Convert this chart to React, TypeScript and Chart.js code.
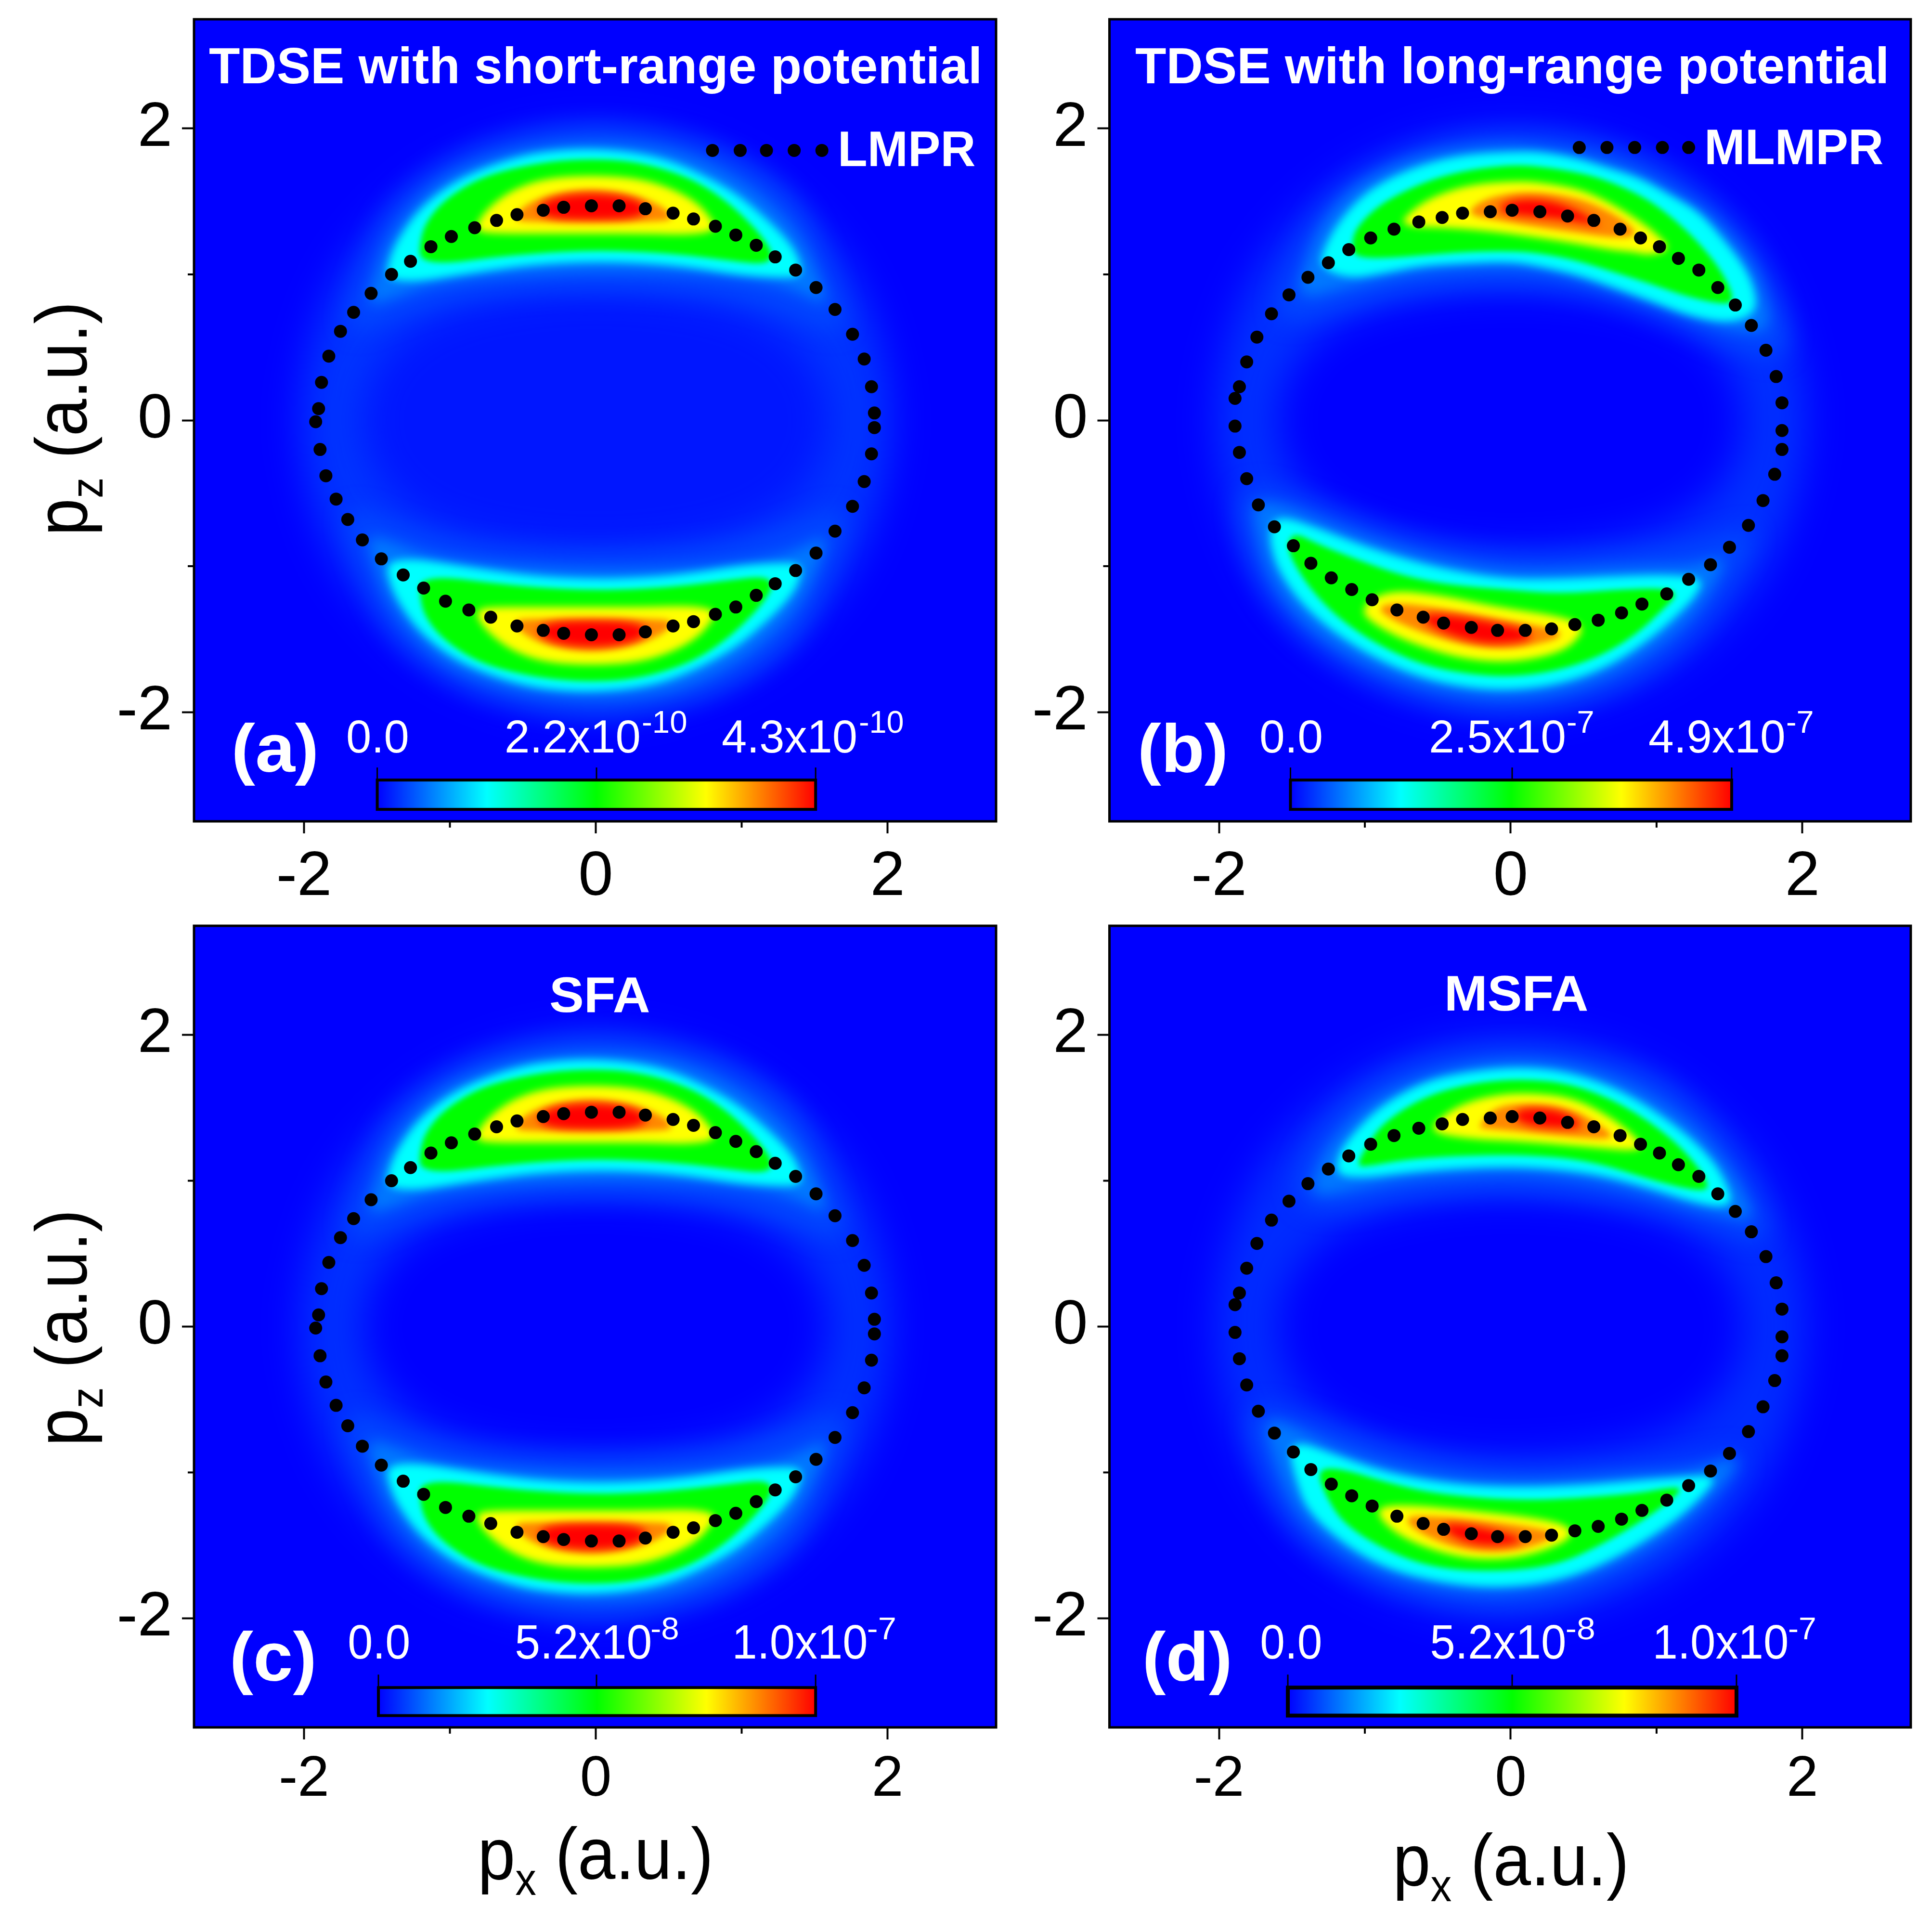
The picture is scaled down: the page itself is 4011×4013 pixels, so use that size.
import { useEffect, useRef } from "react"
import { Chart, registerables } from "chart.js"

Chart.register(...registerables)

type Pt = [number, number]

// dotted circle (LMPR, also used in panel c)
const lmprDots: Pt[] = [
  [-1.92, -0.01], [-1.9, 0.08], [-1.88, 0.26], [-1.83, 0.44], [-1.75, 0.61], [-1.66, 0.74], [-1.54, 0.87], [-1.4, 1.0],
  [-1.27, 1.09], [-1.13, 1.19], [-0.99, 1.26], [-0.83, 1.32], [-0.68, 1.37], [-0.54, 1.41], [-0.36, 1.44], [-0.22, 1.46],
  [-0.03, 1.47], [0.16, 1.47], [0.34, 1.45], [0.53, 1.42], [0.67, 1.38], [0.82, 1.33], [0.96, 1.27], [1.1, 1.2],
  [1.23, 1.12], [1.37, 1.03], [1.51, 0.91], [1.64, 0.76], [1.76, 0.59], [1.84, 0.42], [1.89, 0.23], [1.91, 0.05],
  [1.91, -0.05], [1.89, -0.23], [1.84, -0.42], [1.76, -0.59], [1.64, -0.76], [1.51, -0.91], [1.37, -1.03], [1.23, -1.12],
  [1.1, -1.2], [0.96, -1.28], [0.82, -1.33], [0.67, -1.38], [0.53, -1.41], [0.34, -1.45], [0.16, -1.47], [-0.03, -1.47],
  [-0.22, -1.46], [-0.36, -1.44], [-0.54, -1.41], [-0.72, -1.35], [-0.87, -1.3], [-1.03, -1.24], [-1.18, -1.15], [-1.32, -1.06],
  [-1.47, -0.95], [-1.6, -0.82], [-1.7, -0.68], [-1.78, -0.54], [-1.85, -0.38], [-1.89, -0.2],
]

// MLMPR, also used in panel d
const mlmprDots: Pt[] = [
  [-1.89, -0.04], [-1.89, 0.15], [-1.86, 0.23], [-1.81, 0.4], [-1.74, 0.57], [-1.64, 0.73], [-1.52, 0.86], [-1.39, 0.98],
  [-1.25, 1.08], [-1.11, 1.17], [-0.96, 1.25], [-0.8, 1.31], [-0.63, 1.36], [-0.47, 1.39], [-0.33, 1.42], [-0.14, 1.43],
  [0.01, 1.44], [0.2, 1.43], [0.39, 1.4], [0.57, 1.37], [0.75, 1.31], [0.89, 1.25], [1.02, 1.19], [1.15, 1.11],
  [1.29, 1.03], [1.42, 0.91], [1.54, 0.79], [1.65, 0.65], [1.75, 0.48], [1.82, 0.3], [1.86, 0.12], [1.86, -0.07],
  [1.86, -0.2], [1.81, -0.37], [1.73, -0.55], [1.63, -0.72], [1.5, -0.87], [1.37, -0.99], [1.22, -1.09], [1.07, -1.19],
  [0.9, -1.26], [0.76, -1.32], [0.6, -1.37], [0.44, -1.4], [0.28, -1.43], [0.1, -1.44], [-0.09, -1.44], [-0.27, -1.42],
  [-0.46, -1.39], [-0.6, -1.35], [-0.78, -1.3], [-0.95, -1.23], [-1.09, -1.16], [-1.23, -1.08], [-1.37, -0.98], [-1.49, -0.86],
  [-1.62, -0.73], [-1.73, -0.58], [-1.81, -0.4], [-1.86, -0.22],
]

const lmprKey: Pt[] = [[0.8, 1.85], [0.99, 1.85], [1.17, 1.85], [1.36, 1.85], [1.55, 1.85]]
const mlmprKey: Pt[] = [[0.47, 1.87], [0.66, 1.87], [0.85, 1.87], [1.04, 1.87], [1.22, 1.87]]

// contour outlines of the momentum maps, lowest level first
const hazeOuter: Pt[] = [
  [-2.05, 0], [-1.95, 0.6], [-1.7, 1.15], [-1.2, 1.65], [-0.6, 1.93], [0, 2.02], [0.6, 1.93], [1.2, 1.65], [1.7, 1.15], [1.95, 0.6],
  [2.05, 0], [1.95, -0.6], [1.7, -1.15], [1.2, -1.65], [0.6, -1.93], [0, -2.02], [-0.6, -1.93], [-1.2, -1.65], [-1.7, -1.15], [-1.95, -0.6],
]
const hazeInner: Pt[] = [
  [-1.62, 0], [-1.5, 0.4], [-1.15, 0.7], [-0.6, 0.85], [0, 0.9], [0.6, 0.85], [1.15, 0.7], [1.5, 0.4],
  [1.62, 0], [1.5, -0.4], [1.15, -0.7], [0.6, -0.85], [0, -0.9], [-0.6, -0.85], [-1.15, -0.7], [-1.5, -0.4],
]

const shortGlow: Pt[] = [
  [-1.75, 0.55], [-1.62, 1.0], [-1.4, 1.5], [-0.95, 1.82], [-0.5, 1.96], [0, 2.02], [0.5, 1.96], [0.95, 1.82],
  [1.4, 1.5], [1.62, 1.0], [1.75, 0.55], [1.3, 0.75], [0.8, 0.88], [0, 0.92], [-0.8, 0.88], [-1.3, 0.75],
]
const shortMid: Pt[] = [
  [-1.58, 0.78], [-1.5, 1.03], [-1.44, 1.2], [-1.3, 1.42], [-1.05, 1.66], [-0.75, 1.79], [-0.45, 1.87], [0, 1.91],
  [0.45, 1.87], [0.75, 1.77], [1.05, 1.6], [1.3, 1.38], [1.44, 1.18], [1.52, 1.0], [1.6, 0.78], [1.4, 0.88],
  [1.2, 0.95], [0.7, 1.01], [0, 1.03], [-0.7, 0.99], [-1.15, 0.93], [-1.38, 0.84],
]
const shortCyan: Pt[] = [
  [-1.44, 0.97], [-1.41, 1.12], [-1.35, 1.25], [-1.21, 1.45], [-0.98, 1.63], [-0.74, 1.74], [-0.48, 1.82], [-0.26, 1.85], [-0.03, 1.86],
  [0.24, 1.84], [0.48, 1.79], [0.72, 1.69], [0.97, 1.55], [1.17, 1.38], [1.31, 1.24], [1.39, 1.12], [1.42, 0.98], [1.2, 0.98], [0.96, 1.0],
  [0.65, 1.05], [0.33, 1.08], [-0.03, 1.09], [-0.41, 1.07], [-0.72, 1.03], [-1.04, 0.98], [-1.25, 0.95],
]
const shortGreen: Pt[] = [
  [-1.2, 1.1], [-1.21, 1.18], [-1.18, 1.33], [-1.07, 1.48], [-0.89, 1.61], [-0.71, 1.69], [-0.46, 1.75], [-0.25, 1.78], [-0.03, 1.79],
  [0.21, 1.78], [0.45, 1.73], [0.69, 1.64], [0.9, 1.5], [1.07, 1.34], [1.17, 1.22], [1.22, 1.12], [1.15, 1.07], [0.96, 1.09],
  [0.65, 1.13], [0.33, 1.155], [-0.03, 1.165], [-0.41, 1.145], [-0.72, 1.115], [-1.04, 1.075],
]
const shortYellow: Pt[] = [
  [-0.82, 1.3], [-0.8, 1.38], [-0.7, 1.49], [-0.55, 1.59], [-0.34, 1.66], [-0.03, 1.68], [0.29, 1.66], [0.52, 1.59],
  [0.7, 1.49], [0.8, 1.37], [0.82, 1.3], [0.65, 1.27], [0.33, 1.28], [-0.03, 1.28], [-0.41, 1.28], [-0.72, 1.28],
]
const shortOrange: Pt[] = [
  [-0.57, 1.37], [-0.5, 1.47], [-0.32, 1.55], [-0.03, 1.59], [0.25, 1.55], [0.44, 1.48], [0.54, 1.39], [0.46, 1.36], [-0.03, 1.36], [-0.41, 1.36],
]
const shortRed: Pt[] = [
  [-0.42, 1.44], [-0.3, 1.53], [-0.03, 1.56], [0.25, 1.53], [0.38, 1.44], [0.25, 1.38], [-0.03, 1.37], [-0.3, 1.38],
]

const longTopGlow: Pt[] = [
  [-1.65, 0.65], [-1.5, 1.1], [-1.3, 1.45], [-1.1, 1.64], [-0.62, 1.88], [0, 1.97], [0.65, 1.9], [1.15, 1.66], [1.55, 1.33],
  [1.82, 0.9], [1.95, 0.4], [1.5, 0.5], [1.2, 0.64], [0.6, 0.88], [0, 0.95], [-0.7, 0.9], [-1.25, 0.74],
]
const longTopMid: Pt[] = [
  [-1.48, 0.82], [-1.4, 1.1], [-1.3, 1.34], [-1.1, 1.58], [-0.85, 1.73], [-0.6, 1.82], [-0.3, 1.87], [0, 1.89], [0.35, 1.85], [0.65, 1.78],
  [0.92, 1.68], [1.12, 1.56], [1.33, 1.44], [1.5, 1.27], [1.64, 1.09], [1.72, 0.93], [1.8, 0.6], [1.5, 0.62], [1.25, 0.7], [1.0, 0.79],
  [0.7, 0.89], [0.3, 1.02], [0, 1.05], [-0.35, 1.04], [-0.7, 1.01], [-1.1, 0.92],
]
const longTopCyan: Pt[] = [
  [-1.31, 1.05], [-1.28, 1.18], [-1.18, 1.36], [-1.01, 1.55], [-0.81, 1.67], [-0.58, 1.76], [-0.32, 1.82], [0.01, 1.84], [0.205, 1.84],
  [0.457, 1.795], [0.647, 1.735], [0.887, 1.66], [1.09, 1.545], [1.29, 1.43], [1.45, 1.25], [1.59, 1.07], [1.66, 0.93], [1.69, 0.78], [1.62, 0.7],
  [1.46, 0.67], [1.215, 0.72], [0.962, 0.82], [0.71, 0.91], [0.457, 1.0], [0.205, 1.055], [0.01, 1.09], [-0.31, 1.08], [-0.62, 1.06],
  [-0.87, 1.01], [-1.11, 0.97],
]
const longTopGreen: Pt[] = [
  [-1.08, 1.12], [-1.09, 1.23], [-1.05, 1.33], [-0.91, 1.47], [-0.73, 1.57], [-0.52, 1.66], [-0.27, 1.72], [0.01, 1.75], [0.205, 1.74],
  [0.457, 1.7], [0.647, 1.65], [0.887, 1.545], [1.06, 1.43], [1.24, 1.27], [1.39, 1.1], [1.48, 0.96], [1.53, 0.83], [1.48, 0.79], [1.215, 0.845],
  [0.962, 0.935], [0.71, 1.015], [0.457, 1.095], [0.205, 1.145], [0.01, 1.16], [-0.31, 1.155], [-0.62, 1.13], [-0.87, 1.11],
]
const longTopYellow: Pt[] = [
  [-0.77, 1.33], [-0.68, 1.44], [-0.52, 1.54], [-0.26, 1.62], [0.05, 1.64], [0.205, 1.63], [0.457, 1.59], [0.647, 1.51], [0.85, 1.39],
  [1.0, 1.28], [1.1, 1.17], [0.95, 1.13], [0.836, 1.155], [0.71, 1.165], [0.457, 1.21], [0.205, 1.25], [-0.09, 1.29], [-0.41, 1.32],
]
const longTopOrange: Pt[] = [
  [-0.31, 1.41], [-0.2, 1.51], [0.0, 1.56], [0.205, 1.565], [0.457, 1.525], [0.647, 1.45], [0.82, 1.34], [0.87, 1.26], [0.71, 1.25],
  [0.457, 1.285], [0.205, 1.32], [-0.09, 1.37],
]
const longTopRed: Pt[] = [
  [-0.1, 1.45], [0.0, 1.51], [0.2, 1.52], [0.4, 1.47], [0.6, 1.36], [0.62, 1.33], [0.4, 1.37], [0.2, 1.39], [0.0, 1.41],
]

const longBottomGlow: Pt[] = [
  [-1.9, -0.4], [-1.82, -0.95], [-1.55, -1.4], [-1.05, -1.75], [-0.45, -1.96], [0.1, -2.0], [0.75, -1.85],
  [1.25, -1.5], [1.55, -1.05], [1.72, -0.7], [1.3, -0.85], [0.7, -0.92], [0, -0.95], [-0.7, -0.82], [-1.3, -0.58],
]
const longBottomMid: Pt[] = [
  [-1.78, -0.55], [-1.72, -0.85], [-1.66, -1.05], [-1.51, -1.29], [-1.28, -1.5], [-0.98, -1.68], [-0.65, -1.81], [-0.31, -1.88], [0, -1.9],
  [0.35, -1.86], [0.68, -1.75], [0.98, -1.57], [1.2, -1.39], [1.35, -1.2], [1.5, -0.92], [1.25, -1.0], [1.05, -1.0], [0.7, -1.01], [0.33, -1.03],
  [-0.03, -1.03], [-0.41, -0.97], [-0.73, -0.89], [-1.04, -0.79], [-1.32, -0.68], [-1.55, -0.58],
]
const longBottomCyan: Pt[] = [
  [-1.65, -0.77], [-1.64, -0.88], [-1.59, -1.03], [-1.45, -1.24], [-1.23, -1.44], [-0.95, -1.62], [-0.63, -1.76], [-0.31, -1.83], [-0.01, -1.85],
  [0.33, -1.81], [0.65, -1.7], [0.93, -1.52], [1.14, -1.34], [1.28, -1.19], [1.32, -1.08], [1.06, -1.06], [0.75, -1.07], [0.33, -1.09],
  [-0.03, -1.09], [-0.41, -1.03], [-0.73, -0.95], [-1.04, -0.85], [-1.32, -0.74], [-1.53, -0.67], [-1.62, -0.68],
]
const longBottomGreen: Pt[] = [
  [-1.53, -0.84], [-1.51, -0.94], [-1.38, -1.15], [-1.18, -1.36], [-0.91, -1.54], [-0.6, -1.68], [-0.29, -1.74], [-0.01, -1.76], [0.31, -1.72],
  [0.61, -1.62], [0.86, -1.47], [1.05, -1.29], [1.15, -1.19], [1.05, -1.15], [0.75, -1.16], [0.33, -1.19], [-0.03, -1.16], [-0.41, -1.13],
  [-0.73, -1.07], [-1.04, -0.96], [-1.32, -0.85], [-1.48, -0.77],
]
const longBottomYellow: Pt[] = [
  [-0.85, -1.16], [-0.47, -1.2], [-0.09, -1.28], [0.33, -1.34], [0.49, -1.4], [0.48, -1.48], [0.35, -1.59], [0.03, -1.66],
  [-0.32, -1.64], [-0.65, -1.54], [-0.89, -1.43], [-1.05, -1.3],
]
const longBottomOrange: Pt[] = [
  [-0.77, -1.25], [-0.47, -1.29], [-0.09, -1.36], [0.31, -1.43], [0.35, -1.47], [0.29, -1.51], [0.01, -1.57], [-0.29, -1.55],
  [-0.6, -1.46], [-0.83, -1.36], [-0.92, -1.28],
]
const longBottomRed: Pt[] = [
  [-0.62, -1.33], [-0.43, -1.33], [-0.14, -1.38], [0.14, -1.44], [0.14, -1.51], [-0.14, -1.54], [-0.37, -1.49], [-0.56, -1.41],
]

const msfaTopGlow: Pt[] = [
  [-1.5, 0.85], [-1.42, 1.2], [-1.1, 1.58], [-0.65, 1.83], [0.08, 1.93], [0.9, 1.78], [1.35, 1.42], [1.68, 0.95], [1.8, 0.55],
  [1.4, 0.68], [0.9, 0.84], [0.08, 0.95], [-0.7, 0.9], [-1.2, 0.78],
]
const msfaTopMid: Pt[] = [
  [-1.38, 0.88], [-1.33, 1.08], [-1.23, 1.27], [-0.97, 1.54], [-0.62, 1.71], [-0.28, 1.8], [0.08, 1.83], [0.45, 1.79], [0.84, 1.65], [1.22, 1.4],
  [1.45, 1.15], [1.58, 0.95], [1.68, 0.72], [1.45, 0.77], [1.25, 0.81], [0.91, 0.92], [0.55, 1.01], [0.08, 1.06], [-0.39, 1.04], [-0.73, 1.01], [-1.0, 0.96],
]
const msfaTopCyan: Pt[] = [
  [-1.2, 1.04], [-1.18, 1.18], [-1.1, 1.3], [-0.91, 1.5], [-0.6, 1.68], [-0.28, 1.75], [0.08, 1.78], [0.43, 1.74], [0.8, 1.6], [1.16, 1.36],
  [1.38, 1.15], [1.48, 0.98], [1.52, 0.85], [1.44, 0.82], [1.25, 0.855], [0.91, 0.965], [0.55, 1.055], [0.08, 1.1], [-0.39, 1.085], [-0.73, 1.055], [-1.02, 1.02],
]
const msfaTopGreen: Pt[] = [
  [-1.06, 1.1], [-0.98, 1.25], [-0.87, 1.4], [-0.6, 1.575], [-0.27, 1.67], [0.08, 1.7], [0.42, 1.665], [0.77, 1.525], [1.09, 1.305], [1.28, 1.105],
  [1.37, 0.95], [1.28, 0.93], [1.0, 0.995], [0.54, 1.14], [0.08, 1.18], [-0.39, 1.17], [-0.73, 1.145], [-0.98, 1.1],
]
const msfaTopYellow: Pt[] = [
  [-0.55, 1.33], [-0.5, 1.42], [-0.35, 1.52], [-0.15, 1.58], [0.08, 1.605], [0.42, 1.575], [0.7, 1.43], [0.88, 1.28], [0.9, 1.2],
  [0.54, 1.23], [0.08, 1.27], [-0.27, 1.285],
]
const msfaTopOrange: Pt[] = [
  [-0.22, 1.37], [-0.12, 1.5], [0.08, 1.535], [0.4, 1.505], [0.62, 1.38], [0.72, 1.29], [0.54, 1.29], [0.08, 1.335], [-0.2, 1.36],
]
const msfaTopRed: Pt[] = [
  [0.0, 1.45], [0.1, 1.5], [0.3, 1.49], [0.45, 1.43], [0.5, 1.36], [0.3, 1.36], [0.1, 1.38],
]

const msfaBottomGlow: Pt[] = [
  [-1.85, -0.5], [-1.72, -1.0], [-1.5, -1.42], [-1.0, -1.74], [-0.45, -1.9], [0.1, -1.93], [0.7, -1.76], [1.3, -1.38], [1.7, -0.82],
  [1.2, -0.92], [0.6, -0.96], [0, -0.98], [-0.7, -0.88], [-1.3, -0.65],
]
const msfaBottomMid: Pt[] = [
  [-1.7, -0.62], [-1.6, -0.98], [-1.45, -1.3], [-1.16, -1.55], [-0.84, -1.71], [-0.45, -1.8], [-0.09, -1.83], [0.32, -1.78], [0.68, -1.66],
  [1.12, -1.41], [1.45, -1.1], [1.6, -0.86], [1.25, -1.0], [0.89, -1.01], [0.54, -1.04], [0.08, -1.06], [-0.39, -1.04], [-0.85, -0.96], [-1.24, -0.82], [-1.5, -0.68],
]
const msfaBottomCyan: Pt[] = [
  [-1.52, -0.85], [-1.47, -1.06], [-1.39, -1.27], [-1.12, -1.51], [-0.82, -1.67], [-0.45, -1.76], [-0.09, -1.79], [0.3, -1.75], [0.66, -1.62],
  [1.08, -1.37], [1.32, -1.16], [1.42, -1.02], [1.22, -1.03], [0.89, -1.055], [0.54, -1.085], [0.08, -1.105], [-0.39, -1.085], [-0.85, -1.005], [-1.24, -0.865], [-1.45, -0.79],
]
const msfaBottomGreen: Pt[] = [
  [-1.33, -0.98], [-1.27, -1.16], [-1.14, -1.36], [-0.83, -1.55], [-0.5, -1.66], [-0.09, -1.68], [0.3, -1.64], [0.62, -1.5], [1.0, -1.27],
  [1.2, -1.1], [1.05, -1.11], [0.89, -1.14], [0.54, -1.17], [0.08, -1.195], [-0.5, -1.15], [-0.85, -1.07], [-1.17, -0.97],
]
const msfaBottomYellow: Pt[] = [
  [-0.92, -1.24], [-0.73, -1.22], [-0.27, -1.26], [0.24, -1.32], [0.42, -1.38], [0.4, -1.47], [0.1, -1.58], [-0.2, -1.6], [-0.45, -1.56], [-0.72, -1.46], [-0.88, -1.34],
]
const msfaBottomOrange: Pt[] = [
  [-0.68, -1.29], [-0.27, -1.32], [0.22, -1.385], [0.32, -1.43], [0.18, -1.5], [-0.05, -1.55], [-0.35, -1.53], [-0.6, -1.43], [-0.72, -1.34],
]
const msfaBottomRed: Pt[] = [
  [-0.48, -1.35], [-0.28, -1.36], [-0.02, -1.42], [0.1, -1.46], [-0.02, -1.5], [-0.25, -1.5], [-0.42, -1.43],
]

// the SFA and lower short-range lobes read as scaled copies of the upper short-range lobe
const scaleY = (pts: Pt[], k: number): Pt[] => pts.map(([x, y]) => [x, y * k] as Pt)

const shortTop = [shortGlow, shortMid, shortCyan, shortGreen, shortYellow, shortOrange, shortRed]
const shortLobes = [shortTop, shortTop.map((p) => scaleY(p, -1))]
const sfaLobes = [shortTop.map((p) => scaleY(p, 0.985)), shortTop.map((p) => scaleY(p, -0.985))]
const longLobes = [
  [longTopGlow, longTopMid, longTopCyan, longTopGreen, longTopYellow, longTopOrange, longTopRed],
  [longBottomGlow, longBottomMid, longBottomCyan, longBottomGreen, longBottomYellow, longBottomOrange, longBottomRed],
]
const msfaLobes = [
  [msfaTopGlow, msfaTopMid, msfaTopCyan, msfaTopGreen, msfaTopYellow, msfaTopOrange, msfaTopRed],
  [msfaBottomGlow, msfaBottomMid, msfaBottomCyan, msfaBottomGreen, msfaBottomYellow, msfaBottomOrange, msfaBottomRed],
]

const levelColors = ["#0048ff", "#0078ff", "#00ffff", "#00ff00", "#ffff00", "#ff8800", "#ff0000"]
const levelBlurs = [0.08, 0.045, 0.028, 0.02, 0.026, 0.022, 0.03] // a.u.

const barStops = ["#0000ff", "#00ffff", "#00ff00", "#ffff00", "#ff0000"]
const xTicks = [-2, 0, 2]
const yTicks = [-2, 0, 2]
const minorTicks = [-1, 1]

type Label = { t: string; x: number; y: number; size: number; w?: number; bold?: boolean; color?: string }

const W = "#ffffff"

const panels = [
  {
    left: 0, top: 0, width: 2100, height: 1900,
    plot: { l: 403, r: 2069, t: 40, b: 1706 },
    x: [-2.754, 2.744], y: [-2.749, 2.749],
    lobes: shortLobes, hole: "#0016ff", haze: "#0034ff", dots: lmprDots, key: lmprKey,
    bar: { x: [-1.498, 1.507], y: [-2.466, -2.667], tick: -2.38, lw: 6, mid: 0.005 },
    xFont: 130,
    labels: [
      { t: "TDSE with short-range potential", x: 435, y: 173, size: 106, w: 1598, bold: true, color: W },
      { t: "LMPR", x: 1746, y: 345, size: 103, w: 279, bold: true, color: W },
      { t: "(a)", x: 488, y: 1603, size: 141, w: 167, bold: true, color: W },
      { t: "0.0", x: 722, y: 1563, size: 97, w: 125, color: W },
      { t: "2.2x10", x: 1052, y: 1563, size: 97, w: 276, color: W },
      { t: "-10", x: 1335, y: 1522, size: 64, w: 91, color: W },
      { t: "4.3x10", x: 1501, y: 1563, size: 97, w: 277, color: W },
      { t: "-10", x: 1786, y: 1522, size: 64, w: 90, color: W },
    ] as Label[],
    yTitle: { x: 180, y: 1113, len: 487 },
  },
  {
    left: 2100, top: 0, width: 1911, height: 1900,
    plot: { l: 2304.5, r: 3969, t: 40, b: 1706 },
    x: [-2.751, 2.743], y: [-2.749, 2.749],
    lobes: longLobes, hole: "#0000ff", haze: "#0030ff", dots: mlmprDots, key: mlmprKey,
    bar: { x: [-1.51, 1.515], y: [-2.466, -2.667], tick: -2.38, lw: 6, mid: 0.01 },
    xFont: 130,
    labels: [
      { t: "TDSE with long-range potential", x: 2359, y: 173, size: 106, w: 1558, bold: true, color: W },
      { t: "MLMPR", x: 3546, y: 341, size: 103, w: 365, bold: true, color: W },
      { t: "(b)", x: 2370, y: 1603, size: 141, w: 174, bold: true, color: W },
      { t: "0.0", x: 2619, y: 1563, size: 97, w: 126, color: W },
      { t: "2.5x10", x: 2972, y: 1563, size: 97, w: 278, color: W },
      { t: "-7", x: 3256, y: 1522, size: 64, w: 53, color: W },
      { t: "4.9x10", x: 3426, y: 1563, size: 97, w: 280, color: W },
      { t: "-7", x: 3712, y: 1522, size: 64, w: 53, color: W },
    ] as Label[],
  },
  {
    left: 0, top: 1900, width: 2100, height: 2113,
    plot: { l: 403, r: 2069, t: 1923, b: 3588 },
    x: [-2.754, 2.744], y: [-2.748, 2.748],
    lobes: sfaLobes, hole: "#0000ff", haze: "#0030ff", dots: lmprDots, key: [] as Pt[],
    bar: { x: [-1.49, 1.507], y: [-2.475, -2.667], tick: -2.386, lw: 6, mid: 0.005 },
    xFont: 118,
    labels: [
      { t: "SFA", x: 1143, y: 2102, size: 103, w: 205, bold: true, color: W },
      { t: "(c)", x: 484, y: 3491, size: 143, w: 167, bold: true, color: W },
      { t: "0.0", x: 725, y: 3445, size: 100, w: 124, color: W },
      { t: "5.2x10", x: 1073, y: 3445, size: 100, w: 278, color: W },
      { t: "-8", x: 1353, y: 3405, size: 64, w: 55, color: W },
      { t: "1.0x10", x: 1527, y: 3445, size: 100, w: 272, color: W },
      { t: "-7", x: 1803, y: 3405, size: 64, w: 56, color: W },
    ] as Label[],
    yTitle: { x: 180, y: 3004, len: 492 },
    xTitle: { x: 992, y: 3903, len: 490 },
  },
  {
    left: 2100, top: 1900, width: 1911, height: 2113,
    plot: { l: 2304.5, r: 3969, t: 1923, b: 3588 },
    x: [-2.751, 2.743], y: [-2.748, 2.748],
    lobes: msfaLobes, hole: "#0000ff", haze: "#002cff", dots: mlmprDots, key: [] as Pt[],
    bar: { x: [-1.528, 1.548], y: [-2.475, -2.667], tick: -2.386, lw: 8, mid: 0.01 },
    xFont: 118,
    labels: [
      { t: "MSFA", x: 3006, y: 2099, size: 103, w: 291, bold: true, color: W },
      { t: "(d)", x: 2380, y: 3491, size: 143, w: 173, bold: true, color: W },
      { t: "0.0", x: 2620, y: 3445, size: 100, w: 123, color: W },
      { t: "5.2x10", x: 2974, y: 3445, size: 100, w: 276, color: W },
      { t: "-8", x: 3254, y: 3405, size: 64, w: 57, color: W },
      { t: "1.0x10", x: 3439, y: 3445, size: 100, w: 273, color: W },
      { t: "-7", x: 3716, y: 3405, size: 64, w: 54, color: W },
    ] as Label[],
    xTitle: { x: 2893, y: 3916, len: 491 },
  },
]

const FONT = '"Liberation Sans", Arial, sans-serif'

// closed smooth path through the midpoints of an outline
function tracePath(ctx: CanvasRenderingContext2D, pts: Pt[], xs: any, ys: any) {
  const p = pts.map(([x, y]) => [xs.getPixelForValue(x), ys.getPixelForValue(y)])
  const n = p.length
  ctx.beginPath()
  ctx.moveTo((p[n - 1][0] + p[0][0]) / 2, (p[n - 1][1] + p[0][1]) / 2)
  for (let i = 0; i < n; i++) {
    const next = p[(i + 1) % n]
    ctx.quadraticCurveTo(p[i][0], p[i][1], (p[i][0] + next[0]) / 2, (p[i][1] + next[1]) / 2)
  }
  ctx.closePath()
}

function axisTitle(ctx: CanvasRenderingContext2D, sub: string, x: number, y: number, len: number, rotated: boolean) {
  const size = 152
  const big = `${size}px ${FONT}`
  const small = `${size * 0.62}px ${FONT}`
  ctx.font = big
  const a = ctx.measureText("p").width
  const c = ctx.measureText(" (a.u.)").width
  ctx.font = small
  const b = ctx.measureText(sub).width
  ctx.save()
  ctx.translate(x, y)
  if (rotated) ctx.rotate(-Math.PI / 2)
  ctx.scale(len / (a + b + c), 1)
  ctx.fillStyle = "#000"
  ctx.textAlign = "left"
  ctx.textBaseline = "alphabetic"
  ctx.font = big
  ctx.fillText("p", 0, 0)
  ctx.fillText(" (a.u.)", a + b, 0)
  ctx.font = small
  ctx.fillText(sub, a, size * 0.22)
  ctx.restore()
}

function Panel({ cfg }: { cfg: (typeof panels)[number] }) {
  const chartRef = useRef<HTMLCanvasElement>(null)

  useEffect(() => {
    if (!chartRef.current) return

    const mapPlugin = {
      id: "momentumMap",
      beforeDatasetsDraw(chart: any) {
        const { ctx, chartArea: a, scales } = chart
        const xs = scales.x
        const ys = scales.y
        const unit = Math.abs(xs.getPixelForValue(1) - xs.getPixelForValue(0))
        ctx.save()
        ctx.beginPath()
        ctx.rect(a.left, a.top, a.right - a.left, a.bottom - a.top)
        ctx.clip()
        ctx.fillStyle = "#0000ff"
        ctx.fillRect(a.left, a.top, a.right - a.left, a.bottom - a.top)
        ctx.filter = `blur(${0.13 * unit}px)`
        ctx.fillStyle = cfg.haze
        tracePath(ctx, hazeOuter, xs, ys)
        ctx.fill()
        ctx.fillStyle = cfg.hole
        tracePath(ctx, hazeInner, xs, ys)
        ctx.fill()
        for (const lobe of cfg.lobes) {
          lobe.forEach((outline: Pt[], i: number) => {
            ctx.filter = `blur(${levelBlurs[i] * unit}px)`
            ctx.fillStyle = levelColors[i]
            tracePath(ctx, outline, xs, ys)
            ctx.fill()
          })
        }
        ctx.restore()
      },
      afterDatasetsDraw(chart: any) {
        const { ctx, scales } = chart
        const xs = scales.x
        const ys = scales.y
        const { bar } = cfg
        const x0 = xs.getPixelForValue(bar.x[0])
        const x1 = xs.getPixelForValue(bar.x[1])
        const y0 = ys.getPixelForValue(bar.y[0])
        const y1 = ys.getPixelForValue(bar.y[1])
        const grad = ctx.createLinearGradient(x0, 0, x1, 0)
        barStops.forEach((c, i) => grad.addColorStop(i / (barStops.length - 1), c))
        ctx.save()
        ctx.fillStyle = grad
        ctx.fillRect(x0, y0, x1 - x0, y1 - y0)
        ctx.strokeStyle = "#000"
        ctx.lineWidth = bar.lw
        ctx.strokeRect(x0, y0, x1 - x0, y1 - y0)
        ctx.lineWidth = 3
        const tickTop = ys.getPixelForValue(bar.tick)
        for (const v of [bar.x[0], bar.mid, bar.x[1]]) {
          ctx.beginPath()
          ctx.moveTo(xs.getPixelForValue(v), y0)
          ctx.lineTo(xs.getPixelForValue(v), tickTop)
          ctx.stroke()
        }
        ctx.restore()
      },
      afterDraw(chart: any) {
        const { ctx, chartArea: a, scales } = chart
        ctx.save()
        // frame and the unlabelled ticks
        ctx.strokeStyle = "#000"
        ctx.lineWidth = 5
        ctx.strokeRect(a.left, a.top, a.right - a.left, a.bottom - a.top)
        ctx.lineWidth = 4
        for (const v of minorTicks) {
          const px = scales.x.getPixelForValue(v)
          ctx.beginPath()
          ctx.moveTo(px, a.bottom)
          ctx.lineTo(px, a.bottom + 13)
          ctx.stroke()
          const py = scales.y.getPixelForValue(v)
          ctx.beginPath()
          ctx.moveTo(a.left, py)
          ctx.lineTo(a.left - 13, py)
          ctx.stroke()
        }
        // labels are placed in page pixels, stretched to the width they have in the figure
        ctx.textAlign = "left"
        ctx.textBaseline = "alphabetic"
        for (const l of cfg.labels) {
          ctx.font = `${l.bold ? "bold " : ""}${l.size}px ${FONT}`
          ctx.fillStyle = l.color ?? "#000"
          const m = ctx.measureText(l.t)
          const left = m.actualBoundingBoxLeft ?? 0
          const inked = m.actualBoundingBoxRight + left
          const sx = l.w ? l.w / inked : 1
          ctx.save()
          ctx.translate(l.x - cfg.left + left * sx, l.y - cfg.top)
          ctx.scale(sx, 1)
          ctx.fillText(l.t, 0, 0)
          ctx.restore()
        }
        if (cfg.yTitle) axisTitle(ctx, "z", cfg.yTitle.x - cfg.left, cfg.yTitle.y - cfg.top, cfg.yTitle.len, true)
        if (cfg.xTitle) axisTitle(ctx, "x", cfg.xTitle.x - cfg.left, cfg.xTitle.y - cfg.top, cfg.xTitle.len, false)
        ctx.restore()
      },
    }

    const chart = new Chart(chartRef.current, {
      type: "scatter",
      data: {
        datasets: [
          {
            data: cfg.dots.map(([x, y]) => ({ x, y })),
            backgroundColor: "#000",
            borderWidth: 0,
            pointRadius: 13.5,
          },
          {
            data: cfg.key.map(([x, y]) => ({ x, y })),
            backgroundColor: "#000",
            borderWidth: 0,
            pointRadius: 13.5,
          },
        ],
      },
      options: {
        animation: false,
        responsive: false,
        devicePixelRatio: 1,
        events: [],
        layout: {
          padding: {
            top: cfg.plot.t - cfg.top,
            right: cfg.left + cfg.width - cfg.plot.r,
            left: 0,
            bottom: 0,
          },
        },
        plugins: { legend: { display: false }, tooltip: { enabled: false } },
        scales: {
          x: {
            type: "linear",
            min: cfg.x[0],
            max: cfg.x[1],
            afterBuildTicks: (s: any) => {
              s.ticks = xTicks.map((value) => ({ value }))
            },
            afterFit: (s: any) => {
              s.height = cfg.top + cfg.height - cfg.plot.b
              s.paddingLeft = 0
              s.paddingRight = 0
            },
            border: { display: false },
            grid: { drawOnChartArea: false, drawTicks: true, tickLength: 25, tickWidth: 4, tickColor: "#000" },
            ticks: {
              color: "#000",
              font: { family: FONT, size: cfg.xFont },
              padding: 14,
              maxRotation: 0,
              autoSkip: false,
              callback: (v: any) => String(v),
            },
          },
          y: {
            type: "linear",
            min: cfg.y[0],
            max: cfg.y[1],
            afterBuildTicks: (s: any) => {
              s.ticks = yTicks.map((value) => ({ value }))
            },
            afterFit: (s: any) => {
              s.width = cfg.plot.l - cfg.left
              s.paddingTop = 0
              s.paddingBottom = 0
            },
            border: { display: false },
            grid: { drawOnChartArea: false, drawTicks: true, tickLength: 25, tickWidth: 4, tickColor: "#000" },
            ticks: {
              color: "#000",
              font: { family: FONT, size: 130 },
              padding: 20,
              autoSkip: false,
              callback: (v: any) => String(v),
            },
          },
        },
      },
      plugins: [mapPlugin],
    } as any)

    return () => {
      chart.destroy()
    }
  }, [cfg])

  return (
    <canvas
      ref={chartRef}
      width={cfg.width}
      height={cfg.height}
      style={{ position: "absolute", left: cfg.left, top: cfg.top, display: "block" }}
    />
  )
}

export default function App() {
  return (
    <div style={{ position: "absolute", left: 0, top: 0, width: 4011, height: 4013, background: "#fff", overflow: "hidden" }}>
      {panels.map((p, i) => (
        <Panel key={i} cfg={p} />
      ))}
    </div>
  )
}
